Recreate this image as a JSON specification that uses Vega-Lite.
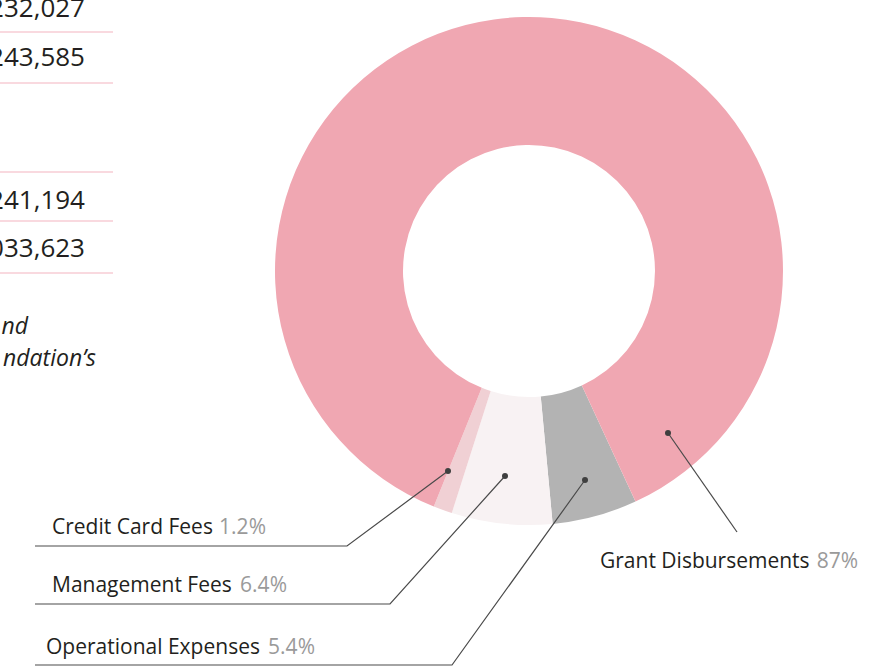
{
  "$schema": "https://vega.github.io/schema/vega-lite/v6.json",
  "width": 882,
  "height": 666,
  "autosize": "none",
  "padding": 0,
  "background": "white",
  "config": {"view": {"stroke": null}, "font": "Open Sans"},
  "datasets": {
    "donut": [
      {"category": "Operational Expenses", "percent": 5.4, "slice": 1},
      {"category": "Management Fees", "percent": 6.4, "slice": 2},
      {"category": "Credit Card Fees", "percent": 1.2, "slice": 3},
      {"category": "Grant Disbursements", "percent": 87, "slice": 4}
    ],
    "leaders": [
      {"category": "Credit Card Fees", "seq": 1, "x": 448, "y": 471},
      {"category": "Credit Card Fees", "seq": 2, "x": 347, "y": 546},
      {"category": "Credit Card Fees", "seq": 3, "x": 35, "y": 546},
      {"category": "Management Fees", "seq": 1, "x": 505, "y": 476},
      {"category": "Management Fees", "seq": 2, "x": 390, "y": 604},
      {"category": "Management Fees", "seq": 3, "x": 35, "y": 604},
      {"category": "Operational Expenses", "seq": 1, "x": 585, "y": 480},
      {"category": "Operational Expenses", "seq": 2, "x": 452, "y": 665},
      {"category": "Operational Expenses", "seq": 3, "x": 35, "y": 665},
      {"category": "Grant Disbursements", "seq": 1, "x": 668, "y": 433},
      {"category": "Grant Disbursements", "seq": 2, "x": 737, "y": 532}
    ],
    "labels": [
      {"name": "Credit Card Fees", "pct": "1.2%", "x": 52, "xe": 266, "y": 534},
      {"name": "Management Fees", "pct": "6.4%", "x": 52, "xe": 287, "y": 592},
      {"name": "Operational Expenses", "pct": "5.4%", "x": 46, "xe": 315, "y": 654},
      {"name": "Grant Disbursements", "pct": "87%", "x": 600, "xe": 858, "y": 568}
    ],
    "table": [
      {"value": "232,027", "y": 17},
      {"value": "243,585", "y": 66},
      {"value": "241,194", "y": 209},
      {"value": "033,623", "y": 257}
    ],
    "rules": [{"y": 32}, {"y": 83}, {"y": 172}, {"y": 221}, {"y": 273}],
    "notes": [
      {"text": "nd", "xe": 28, "y": 334},
      {"text": "ndation’s", "xe": 96, "y": 366}
    ]
  },
  "layer": [
    {
      "data": {"name": "donut"},
      "mark": {"type": "arc", "outerRadius": 254, "innerRadius": 126},
      "encoding": {
        "x": {"datum": 529, "type": "quantitative", "scale": {"domain": [0, 882], "nice": false, "zero": false}, "axis": null},
        "y": {"datum": 271, "type": "quantitative", "scale": {"domain": [0, 666], "nice": false, "zero": false, "reverse": true}, "axis": null},
        "theta": {"field": "percent", "type": "quantitative", "stack": true, "scale": {"range": [2.709, 8.992]}},
        "order": {"field": "slice", "type": "quantitative"},
        "color": {
          "field": "category",
          "type": "nominal",
          "legend": null,
          "scale": {
            "domain": ["Operational Expenses", "Management Fees", "Credit Card Fees", "Grant Disbursements"],
            "range": ["#b3b3b3", "#f8f2f3", "#f0d0d4", "#f0a7b2"]
          }
        }
      }
    },
    {
      "data": {"name": "rules"},
      "mark": {"type": "rule", "color": "#f4b4bf", "strokeWidth": 1.2},
      "encoding": {
        "x": {"datum": 0, "type": "quantitative"},
        "x2": {"datum": 113},
        "y": {"field": "y", "type": "quantitative"}
      }
    },
    {
      "data": {"name": "table"},
      "mark": {"type": "text", "align": "right", "baseline": "alphabetic", "fontSize": 26, "color": "#231f20"},
      "encoding": {
        "x": {"datum": 85, "type": "quantitative"},
        "y": {"field": "y", "type": "quantitative"},
        "text": {"field": "value"}
      }
    },
    {
      "data": {"name": "notes"},
      "mark": {"type": "text", "align": "right", "baseline": "alphabetic", "fontSize": 23, "fontStyle": "italic", "color": "#231f20"},
      "encoding": {
        "x": {"field": "xe", "type": "quantitative"},
        "y": {"field": "y", "type": "quantitative"},
        "text": {"field": "text"}
      }
    },
    {
      "data": {"name": "leaders"},
      "mark": {"type": "line", "color": "#4a4a4a", "strokeWidth": 1.2},
      "encoding": {
        "x": {"field": "x", "type": "quantitative"},
        "y": {"field": "y", "type": "quantitative"},
        "detail": {"field": "category"},
        "order": {"field": "seq", "type": "quantitative"}
      }
    },
    {
      "data": {"name": "leaders"},
      "transform": [{"filter": "datum.seq == 1"}],
      "mark": {"type": "point", "filled": true, "size": 36, "opacity": 1, "color": "#3f3f3f"},
      "encoding": {
        "x": {"field": "x", "type": "quantitative"},
        "y": {"field": "y", "type": "quantitative"}
      }
    },
    {
      "data": {"name": "labels"},
      "mark": {"type": "text", "align": "left", "baseline": "alphabetic", "fontSize": 21, "color": "#231f20"},
      "encoding": {
        "x": {"field": "x", "type": "quantitative"},
        "y": {"field": "y", "type": "quantitative"},
        "text": {"field": "name"}
      }
    },
    {
      "data": {"name": "labels"},
      "mark": {"type": "text", "align": "right", "baseline": "alphabetic", "fontSize": 21, "color": "#9a9a9a"},
      "encoding": {
        "x": {"field": "xe", "type": "quantitative"},
        "y": {"field": "y", "type": "quantitative"},
        "text": {"field": "pct"}
      }
    }
  ]
}
